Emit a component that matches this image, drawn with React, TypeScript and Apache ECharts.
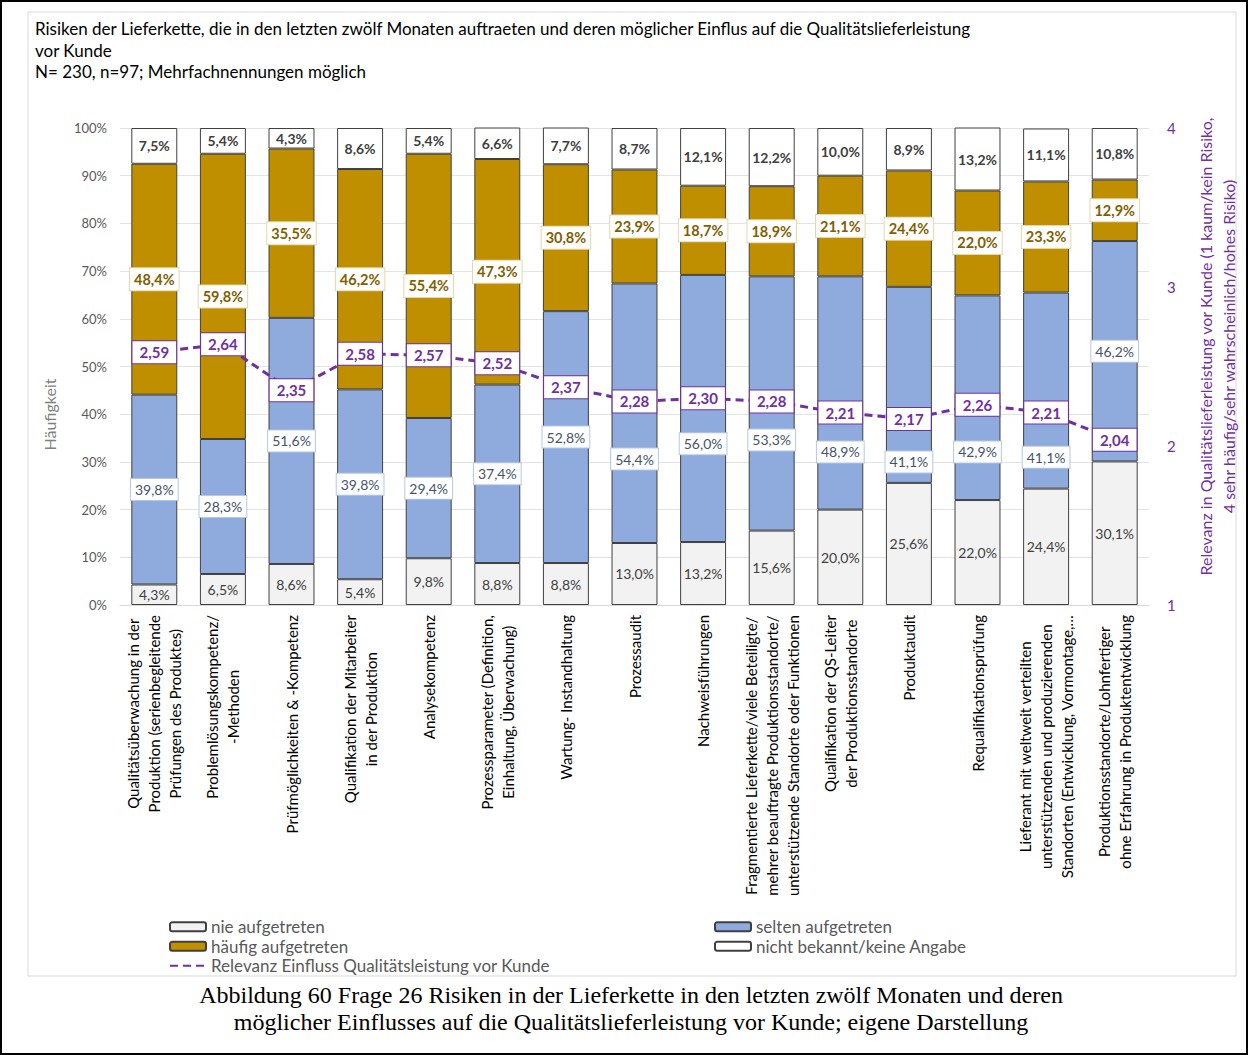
import React, { useEffect, useRef } from "react";
import * as echarts from "echarts";

const categories = [
  "Qualitätsüberwachung in der\nProduktion (serienbegleitende\nPrüfungen des Produktes)",
  "Problemlösungskompetenz/\n-Methoden",
  "Prüfmöglichkeiten & -Kompetenz",
  "Qualifikation der Mitarbeiter\nin der Produktion",
  "Analysekompetenz",
  "Prozessparameter (Definition,\nEinhaltung, Überwachung)",
  "Wartung- Instandhaltung",
  "Prozessaudit",
  "Nachweisführungen",
  "Fragmentierte Lieferkette/viele Beteiligte/\nmehrer beauftragte Produktionsstandorte/\nunterstützende Standorte oder Funktionen",
  "Qualifikation der QS-Leiter\nder Produktionsstandorte",
  "Produktaudit",
  "Requalifikationsprüfung",
  "Lieferant mit weltweit verteilten\nunterstützenden und produzierenden\nStandorten (Entwicklung, Vormontage,…",
  "Produktionsstandorte/Lohnfertiger\nohne Erfahrung in Produktentwicklung",
];

const nieAufgetreten = [4.3, 6.5, 8.6, 5.4, 9.8, 8.8, 8.8, 13.0, 13.2, 15.6, 20.0, 25.6, 22.0, 24.4, 30.1];
const seltenAufgetreten = [39.8, 28.3, 51.6, 39.8, 29.4, 37.4, 52.8, 54.4, 56.0, 53.3, 48.9, 41.1, 42.9, 41.1, 46.2];
const haeufigAufgetreten = [48.4, 59.8, 35.5, 46.2, 55.4, 47.3, 30.8, 23.9, 18.7, 18.9, 21.1, 24.4, 22.0, 23.3, 12.9];
const nichtBekannt = [7.5, 5.4, 4.3, 8.6, 5.4, 6.6, 7.7, 8.7, 12.1, 12.2, 10.0, 8.9, 13.2, 11.1, 10.8];
const relevanz = [2.59, 2.64, 2.35, 2.58, 2.57, 2.52, 2.37, 2.28, 2.30, 2.28, 2.21, 2.17, 2.26, 2.21, 2.04];

// Height (in % of the left axis) at which the "selten" label was moved in the original
// to keep it clear of the relevance labels; null = centred in its segment.
const seltenLabelAt: (number | null)[] = [null, null, null, null, null, null, null, 30.6, 33.8, 34.6, 32.1, 30.0, 32.1, 31.0, null];

const leftTicks = [0, 10, 20, 30, 40, 50, 60, 70, 80, 90, 100];
const rightTicks = [1, 2, 3, 4];

const titleText =
  "Risiken der Lieferkette, die in den letzten zwölf Monaten auftraeten und deren möglicher Einflus auf die Qualitätslieferleistung\nvor Kunde\nN= 230, n=97; Mehrfachnennungen möglich";
const captionLines = [
  "Abbildung 60 Frage 26 Risiken in der Lieferkette in den letzten zwölf Monaten und deren",
  "möglicher Einflusses auf die Qualitätslieferleistung vor Kunde; eigene Darstellung",
];
const lineName = "Relevanz Einfluss Qualitätsleistung vor Kunde";

const FONT = "Lato";
const PURPLE = "#7030a0";
const W = 1248;
const H = 1055;
const GRID = { left: 120, right: 98, top: 128, bottom: 450 };

const pct = (v: number) => v.toFixed(1).replace(".", ",") + "%";

export default function App() {
  const ref = useRef<HTMLDivElement>(null);
  useEffect(() => {
    if (!ref.current) return;
    const chart = echarts.init(ref.current, undefined, { renderer: "svg" });
    const plotH = H - GRID.top - GRID.bottom;
    const pxPerUnit = plotH / (leftTicks[leftTicks.length - 1] - leftTicks[0]);
    const barBase = {
      type: "bar",
      stack: "total",
      barWidth: "67%",
      itemStyle: { borderColor: "#404040", borderWidth: 1 },
    };
    const legendCommon = {
      orient: "vertical",
      top: 912,
      itemWidth: 36,
      itemHeight: 9,
      itemGap: 0,
      textStyle: { fontFamily: FONT, fontSize: 17, color: "#595959", lineHeight: 19.5 },
    };
    const seltenData = seltenAufgetreten.map((v, i) => {
      const at = seltenLabelAt[i];
      if (at == null) return v;
      const center = nieAufgetreten[i] + v / 2;
      return { value: v, label: { offset: [0, (center - at) * pxPerUnit] } };
    });
    chart.setOption({
      animation: false,
      textStyle: { fontFamily: FONT },
      title: {
        text: titleText,
        left: 30,
        top: 13,
        textStyle: { fontFamily: FONT, fontSize: 17, fontWeight: "normal", color: "#000", lineHeight: 21.5 },
      },
      graphic: [
        { type: "rect", shape: { x: 1, y: 1, width: W - 2, height: H - 2 }, style: { fill: "none", stroke: "#000", lineWidth: 2 }, silent: true },
        { type: "rect", shape: { x: 28, y: 12, width: 1208, height: 964 }, style: { fill: "none", stroke: "#d9d9d9", lineWidth: 1 }, silent: true },
        {
          type: "text",
          x: 631,
          y: 995,
          style: { text: captionLines[0], fontFamily: "Liberation Serif", fontSize: 24, fill: "#000", textAlign: "center", textVerticalAlign: "middle" },
        },
        {
          type: "text",
          x: 631,
          y: 1022,
          style: { text: captionLines[1], fontFamily: "Liberation Serif", fontSize: 24, fill: "#000", textAlign: "center", textVerticalAlign: "middle" },
        },
      ],
      legend: [
        {
          ...legendCommon,
          left: 164,
          data: [
            "nie aufgetreten",
            "häufig aufgetreten",
            { name: lineName, itemStyle: { opacity: 0 } },
          ],
        },
        {
          ...legendCommon,
          left: 709,
          data: ["selten aufgetreten", "nicht bekannt/keine Angabe"],
        },
      ],
      grid: { ...GRID, containLabel: false },
      xAxis: {
        type: "category",
        data: categories,
        axisLine: { lineStyle: { color: "#d9d9d9" } },
        axisTick: { show: false },
        axisLabel: {
          interval: 0,
          rotate: 90,
          margin: 10,
          formatter: (v: string) => v.split("\n").map((l) => `{c|${l}}`).join("\n"),
          rich: { c: { align: "center", fontFamily: FONT, fontSize: 15, lineHeight: 21, color: "#000" } },
        },
      },
      yAxis: [
        {
          type: "value",
          min: leftTicks[0],
          max: leftTicks[leftTicks.length - 1],
          interval: 10,
          name: "Häufigkeit",
          nameLocation: "middle",
          nameGap: 63,
          nameRotate: 90,
          nameTextStyle: { fontFamily: FONT, fontSize: 16, color: "#7f7f7f", padding: [0, 96, 0, 0] },
          axisLine: { show: false },
          axisTick: { show: false },
          axisLabel: { formatter: (v: number) => v + "%", fontSize: 13, color: "#595959", margin: 13 },
          splitLine: { lineStyle: { color: "#e3e3e3" } },
        },
        {
          type: "value",
          min: rightTicks[0],
          max: rightTicks[rightTicks.length - 1],
          interval: 1,
          position: "right",
          name: "Relevanz in Qualitätslieferleistung vor Kunde (1 kaum/kein Risiko,\n4 sehr häufig/sehr wahrscheinlich/hohes Risiko)",
          nameLocation: "middle",
          nameGap: 45,
          nameRotate: 90,
          nameTextStyle: { fontFamily: FONT, fontSize: 16, color: PURPLE, lineHeight: 23, padding: [0, 0, 0, 40] },
          axisLine: { show: false },
          axisTick: { show: false },
          axisLabel: { fontSize: 15, color: PURPLE, margin: 18 },
          splitLine: { show: false },
        },
      ],
      series: [
        {
          ...barBase,
          name: "nie aufgetreten",
          data: nieAufgetreten,
          itemStyle: { ...barBase.itemStyle, color: "#f2f2f2" },
          label: { show: true, position: "inside", formatter: (p: any) => pct(p.value), fontSize: 14, color: "#404040" },
        },
        {
          ...barBase,
          name: "selten aufgetreten",
          data: seltenData,
          itemStyle: { ...barBase.itemStyle, color: "#8faadc" },
          label: {
            show: true,
            position: "inside",
            formatter: (p: any) => pct(p.value),
            fontSize: 14,
            color: "#44546a",
            backgroundColor: "#fff",
            borderColor: "#b4c7e7",
            borderWidth: 1,
            padding: [4, 4, 3, 4],
          },
        },
        {
          ...barBase,
          name: "häufig aufgetreten",
          data: haeufigAufgetreten,
          itemStyle: { ...barBase.itemStyle, color: "#bf8f00" },
          label: {
            show: true,
            position: "inside",
            formatter: (p: any) => pct(p.value),
            fontSize: 14.5,
            fontWeight: "bold",
            color: "#7f6000",
            backgroundColor: "#fff",
            borderColor: "#e6d7a8",
            borderWidth: 1,
            padding: [4, 4, 3, 4],
          },
        },
        {
          ...barBase,
          name: "nicht bekannt/keine Angabe",
          data: nichtBekannt,
          itemStyle: { ...barBase.itemStyle, color: "#ffffff" },
          label: { show: true, position: "inside", formatter: (p: any) => pct(p.value), fontSize: 14, fontWeight: "bold", color: "#404040" },
        },
        {
          type: "line",
          name: lineName,
          yAxisIndex: 1,
          data: relevanz,
          symbol: "circle",
          symbolSize: 1,
          showSymbol: true,
          z: 10,
          lineStyle: { color: PURPLE, width: 3, type: [8, 5] },
          itemStyle: { color: PURPLE },
          label: {
            show: true,
            position: "inside",
            formatter: (p: any) => p.value.toFixed(2).replace(".", ","),
            fontSize: 15,
            fontWeight: "bold",
            color: PURPLE,
            backgroundColor: "#fff",
            borderColor: PURPLE,
            borderWidth: 1,
            padding: [4, 7, 3, 7],
          },
        },
      ],
    });
    return () => chart.dispose();
  }, []);
  return (
    <div
      ref={ref}
      style={{ position: "fixed", left: 0, top: 0, width: W, height: H, background: "#fff" }}
    />
  );
}
